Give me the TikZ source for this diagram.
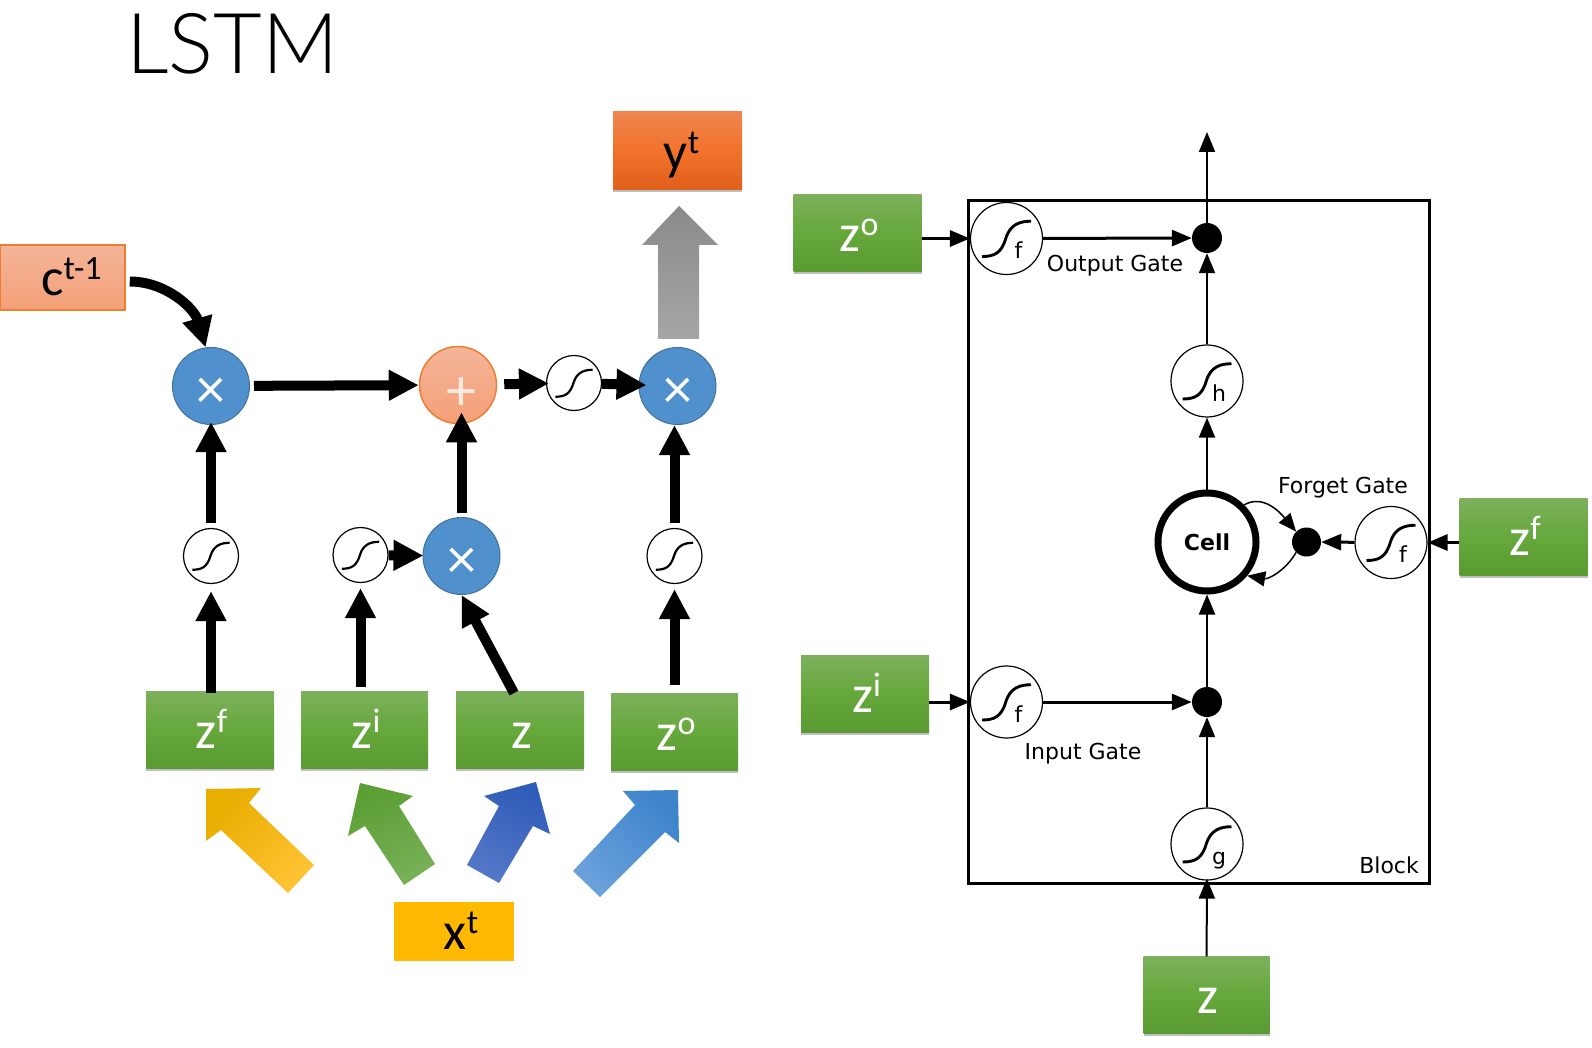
\documentclass[tikz,border=0pt]{standalone}
\usepackage{fontspec}
\setmainfont{Carlito}
\newfontfamily\dejavu{DejaVu Sans}
\newfontfamily\titlefont{Lato Light}
\usetikzlibrary{arrows.meta,shadows}
\newcommand{\supt}[2]{#1\raisebox{16pt}{\fontsize{34}{34}\selectfont #2}}
\newcommand{\siglabel}[1]{\hspace{24pt}#1}
\definecolor{gboxtop}{HTML}{7DB05C}
\definecolor{gboxmid}{HTML}{66A83C}
\definecolor{gboxbot}{HTML}{5A9A32}
\definecolor{mulblue}{HTML}{4F90CD}
\definecolor{muledge}{HTML}{41719C}
\definecolor{addtop}{HTML}{F4B498}
\definecolor{addbot}{HTML}{F4A077}
\definecolor{addedge}{HTML}{ED7D31}
\definecolor{ytop}{HTML}{EF8550}
\definecolor{ymid}{HTML}{F1722A}
\definecolor{ybot}{HTML}{E0601C}
\definecolor{xfill}{HTML}{FFB900}
\definecolor{graytop}{HTML}{8A8A8A}
\definecolor{graybot}{HTML}{A6A6A6}
\definecolor{arrAtip}{HTML}{E8AE00}
\definecolor{arrAtail}{HTML}{FFC233}
\definecolor{arrBtip}{HTML}{5B9E33}
\definecolor{arrBtail}{HTML}{78B058}
\definecolor{arrCtip}{HTML}{2E5CB8}
\definecolor{arrCtail}{HTML}{5577C8}
\definecolor{arrDtip}{HTML}{3E84CC}
\definecolor{arrDtail}{HTML}{6BA1DB}

\begin{document}
\begin{tikzpicture}[x=1pt,y=-1pt,
	pptbox/.style={rectangle,inner sep=0pt,font=\fontsize{53}{53}\selectfont},
	softshadow/.style={drop shadow={opacity=.5,shadow xshift=0pt,shadow yshift=-2.5pt}},
	greenbox/.style={pptbox,minimum width=#1,text height=57pt,text depth=20pt,text=white,
		top color=gboxtop,bottom color=gboxbot,middle color=gboxmid,softshadow,
		execute at begin node=\hspace*{3pt}},
	opnode/.style={circle,minimum size=77pt,inner sep=0pt,text=white,
		font=\fontsize{58}{58}\selectfont,text height=45pt,text depth=0pt},
	mulnode/.style={opnode,fill=mulblue,draw=muledge,line width=1pt},
	addnode/.style={opnode,top color=addtop,bottom color=addbot,draw=addedge,line width=1.5pt,text=white!70!addtop,
		font=\fontsize{60}{60}\selectfont,text height=50pt},
	sigmoid/.style={circle,draw,fill=white,line width=1.2pt,minimum size=2*#1,inner sep=0pt,
		font=\dejavu\fontsize{22}{22}\selectfont,text height=40pt,text depth=0pt,
		path picture={\draw[line width=.08*#1] ([shift={(-.68*#1,-.5*#1)}]path picture bounding box.center)
			.. controls +(.35*#1,0) and +(-.12*#1,-.4*#1) .. ([shift={(-.02*#1,0)}]path picture bounding box.center)
			.. controls +(.12*#1,.4*#1) and +(-.3*#1,0) .. ([shift={(.68*#1,.48*#1)}]path picture bounding box.center);}},
	dot/.style={circle,fill=black,minimum size=30pt,inner sep=0pt},
	bigarrow/.style={-{Triangle[length=30pt,width=29pt]},line width=10pt},
	thinarrow/.style={-{Triangle[length=20pt,width=16pt]},line width=2pt},
	medarrow/.style={-{Triangle[length=20pt,width=16pt]},line width=3pt},
	looparrow/.style={-{Triangle[length=18pt,width=15pt]},line width=1.5pt},
	gatetext/.style={font=\dejavu\fontsize{22}{22}\selectfont,inner sep=0pt}]

\useasboundingbox (0,0) rectangle (1592,1048);

\node[anchor=base west,inner sep=0pt,font=\titlefont\fontsize{84}{84}\selectfont] (title) at (126,74) {LSTM};

% left part
\node[pptbox,minimum width=125pt,text height=51pt,text depth=14pt,top color=addtop,bottom color=addbot,
	draw=addedge,line width=1.5pt] (cprev) at (62.5,277.5) {\hspace*{18pt}\supt{c}{t-1}};
\node[pptbox,minimum width=129pt,text height=58pt,text depth=20pt,softshadow,
	top color=ytop,bottom color=ybot,middle color=ymid] (yout) at (677.5,151) {\hspace*{8pt}\supt{y}{t}};
\node[pptbox,minimum width=120pt,text height=47pt,text depth=12pt,fill=xfill] (xin) at (454,931.5) {\hspace*{14pt}\supt{x}{t}};

\node[mulnode] (mulF) at (211,386) {×};
\node[addnode] (add) at (458,385) {\hspace*{6pt}+};
\node[sigmoid=27.5pt] (sigA) at (574,383) {};
\node[mulnode] (mulO) at (677.5,386) {×};
\node[sigmoid=27.5pt] (sF) at (211,556) {};
\node[sigmoid=27.5pt] (sI) at (360.5,555) {};
\node[mulnode] (mulI) at (461.5,556) {×};
\node[sigmoid=27.5pt] (sO) at (674.5,556) {};

\node[greenbox=128pt] (zF) at (210,730) {\supt{z}{f}};
\node[greenbox=127pt] (zI) at (364.5,730) {\supt{z}{i}};
\node[greenbox=128pt] (zP) at (520,730) {z};
\node[greenbox=127pt] (zO) at (674.5,732) {\supt{z}{o}};

\draw[bigarrow,shorten <=4pt] (mulF) -- (add);
\draw[bigarrow,shorten <=7pt,shorten >=-3pt] (add) -- (sigA);
\draw[bigarrow,shorten >=-8pt] (sigA) -- (mulO);
\draw[bigarrow,shorten <=5pt,shorten >=-3pt] (sF) -- (mulF);
\draw[bigarrow,shorten <=4pt,shorten >=-12pt] (mulI.north) -- (mulI.north |- add.south);
\draw[bigarrow,shorten <=5pt] (sO) -- (sO |- mulO.south);
\draw[bigarrow,shorten <=-2pt,shorten >=7pt] (sF |- zF.north) -- (sF);
\draw[bigarrow,shorten <=4pt,shorten >=5pt] (sI |- zI.north) -- (sI);
\draw[bigarrow,shorten <=8pt,shorten >=5pt] (sO |- zO.north) -- (sO);
\draw[bigarrow,shorten <=-2pt] ([xshift=-7pt]zP.north) -- (mulI.south);
\draw[bigarrow,shorten >=-1pt] (sI) -- (mulI);
\draw[bigarrow,shorten <=4pt] ([yshift=-4pt]cprev.east) to[out=0,in=106] (mulF.98);

% block arrows
\shade[top color=graytop,bottom color=graybot] (679,206) -- (718,245) -- (699,245) -- (699,339) -- (658,339) -- (658,245) -- (642,245) -- cycle;
\shade[shift={(-1,3)},top color=arrAtip,bottom color=arrAtail,shading angle=45] (207,786) -- (262,785) -- (250,800) -- (315,862) -- (289,890) -- (222,827) -- (207,838) -- cycle;
\shade[shift={(-1,3)},top color=arrBtip,bottom color=arrBtail,shading angle=25] (361,780) -- (414,793) -- (400,803) -- (436,861) -- (405,882) -- (366,823) -- (349,833) -- cycle;
\shade[shift={(-2,3)},top color=arrCtip,bottom color=arrCtail,shading angle=-25] (538,779) -- (552,831) -- (535,823) -- (501,880) -- (469,862) -- (501,803) -- (486,793) -- cycle;
\shade[shift={(-2,4)},top color=arrDtip,bottom color=arrDtail,shading angle=-45] (680,786) -- (681,839) -- (667,828) -- (602,893) -- (575,867) -- (637,801) -- (625,787) -- cycle;

% right part
\node[rectangle,draw,line width=3pt,minimum width=461pt,minimum height=683pt,inner sep=0pt] (block) at (1198.5,542) {};
\node[gatetext,anchor=south east] (blocklbl) at (1419,874) {Block};

\node[sigmoid=36pt] (gO) at (1006.5,238.5) {\siglabel{f}};
\node[sigmoid=36pt] (gI) at (1006.5,702) {\siglabel{f}};
\node[sigmoid=36pt] (gF) at (1391,542.5) {\siglabel{f}};
\node[sigmoid=36pt] (gH) at (1207,381) {\siglabel{h}};
\node[sigmoid=36pt] (gG) at (1207,844) {\siglabel{g}};
\node[dot] (dotO) at (1207,238) {};
\node[dot] (dotI) at (1207,702) {};
\node[dot,minimum size=29pt] (dotF) at (1306.5,542) {};
\node[circle,draw,line width=7pt,minimum size=98pt,inner sep=0pt,font=\dejavu\bfseries\fontsize{22}{22}\selectfont] (cell) at (1207,542) {Cell};
\coordinate (top) at (1207,132);

\node[gatetext] (lblO) at (1115,266) {Output Gate};
\node[gatetext] (lblF) at (1343,488) {Forget Gate};
\node[gatetext] (lblI) at (1083,754) {Input Gate};

\node[greenbox=128pt] (rzO) at (857.5,233) {\supt{z}{o}};
\node[greenbox=128pt] (rzI) at (865,694) {\supt{z}{i}};
\node[greenbox=128pt] (rzF) at (1523.5,537) {\supt{z}{f}};
\node[greenbox=126pt] (rzP) at (1206.5,995) {z};

\draw[thinarrow] (dotO.center) -- (top);
\draw[medarrow] (gO) -- (dotO);
\draw[medarrow] (gI) -- (dotI);
\draw[medarrow] (rzO.east |- gO) -- (gO);
\draw[medarrow] (rzI.east |- gI) -- (gI);
\draw[medarrow] (rzF.west |- gF) -- (gF);
\draw[medarrow] (gF) -- (dotF);
\draw[thinarrow] (gH) -- (dotO);
\draw[thinarrow] (cell) -- (gH);
\draw[thinarrow] (dotI.center) -- (cell);
\draw[thinarrow] (gG) -- (dotI);
\draw[thinarrow,shorten >=-2pt] (rzP) -- (gG);
\draw[looparrow] (cell.45) to[out=30,in=130] (dotF.135);
\draw[looparrow] (dotF.225) to[out=240,in=-10] (cell.-40);
\end{tikzpicture}
\end{document}
